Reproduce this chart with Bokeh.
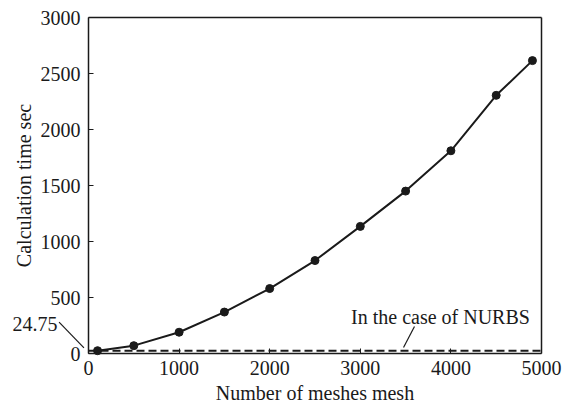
from bokeh.plotting import figure
from bokeh.models import Range1d, FixedTicker, Label, Arrow, LinearAxis
from bokeh.embed import file_html
from bokeh.resources import INLINE

meshes = [100, 500, 1000, 1500, 2000, 2500, 3000, 3500, 4000, 4500, 4900]
calc_time = [25, 70, 190, 370, 580, 830, 1135, 1450, 1810, 2305, 2615]
nurbs_time = 24.75
nurbs_x = [0, 5000]
x_ticks = [0, 1000, 2000, 3000, 4000, 5000]
y_ticks = [0, 500, 1000, 1500, 2000, 2500, 3000]

FONT = "Liberation Serif"
INK = "#1a1a1a"
FS = "20px"

W, H = 571, 410
# the frame covers the whole canvas; axes are pinned at data positions so that
# the notes outside the plotting box are not clipped.
# box: x 0..5000 -> px 88..541, y 0..3000 -> px 353..17
BX0, BX1, BY0, BY1 = 88, 541, 353, 17
sx = (BX1 - BX0) / 5000.0
sy = (BY0 - BY1) / 3000.0
x_rng = Range1d(-BX0 / sx, 5000 + (W - BX1) / sx)
y_rng = Range1d(-(H - BY0) / sy, 3000 + BY1 / sy)

p = figure(width=W, height=H, output_backend="svg", toolbar_location=None,
           x_range=x_rng, y_range=y_rng,
           x_axis_location=None, y_axis_location=None, min_border=0)
p.xgrid.visible = False
p.ygrid.visible = False
p.outline_line_color = None
p.background_fill_color = "white"
p.border_fill_color = "white"

xax = LinearAxis(fixed_location=0, bounds=(0, 5000), ticker=FixedTicker(ticks=x_ticks))
yax = LinearAxis(fixed_location=0, bounds=(0, 3000), ticker=FixedTicker(ticks=y_ticks))
top = LinearAxis(fixed_location=3000, bounds=(0, 5000), ticker=FixedTicker(ticks=[]))
right = LinearAxis(fixed_location=5000, bounds=(0, 3000), ticker=FixedTicker(ticks=[]))
p.add_layout(xax, "below")
p.add_layout(yax, "left")
p.add_layout(top, "above")
p.add_layout(right, "right")

for ax in (xax, yax, top, right):
    ax.axis_line_color = INK
    ax.axis_line_width = 1.5
    ax.major_tick_in = 5
    ax.major_tick_out = 0
    ax.major_tick_line_color = INK
    ax.minor_tick_line_color = None
    ax.major_label_text_font = FONT
    ax.major_label_text_font_size = FS
    ax.major_label_text_color = INK
    ax.axis_label_text_font = FONT
    ax.axis_label_text_font_size = FS
    ax.axis_label_text_font_style = "normal"
    ax.axis_label_text_color = INK

xax.axis_label = "Number of meshes mesh"
yax.axis_label = "Calculation time sec"
xax.major_label_standoff = 7
yax.major_label_standoff = 8
xax.axis_label_standoff = 4
yax.axis_label_standoff = 3

p.line(nurbs_x, [nurbs_time, nurbs_time], line_color=INK, line_width=2, line_dash="8 4")
p.line(meshes, calc_time, line_color=INK, line_width=2)
p.scatter(meshes, calc_time, size=8, fill_color=INK, line_color=INK)

p.add_layout(Label(x=-342, y=259, text="24.75", text_font=FONT, text_font_size=FS,
                   text_color=INK, text_align="right", text_baseline="middle"))
p.add_layout(Arrow(end=None, x_start=-325, y_start=280, x_end=-50, y_end=50,
                   line_color=INK, line_width=1.2))
p.add_layout(Label(x=3885, y=330, text="In the case of NURBS", text_font=FONT,
                   text_font_size=FS, text_color=INK, text_align="center",
                   text_baseline="middle"))
p.add_layout(Arrow(end=None, x_start=3598, y_start=241, x_end=3477, y_end=54,
                   line_color=INK, line_width=1.2))

open("out.html", "w").write(file_html(p, INLINE))
